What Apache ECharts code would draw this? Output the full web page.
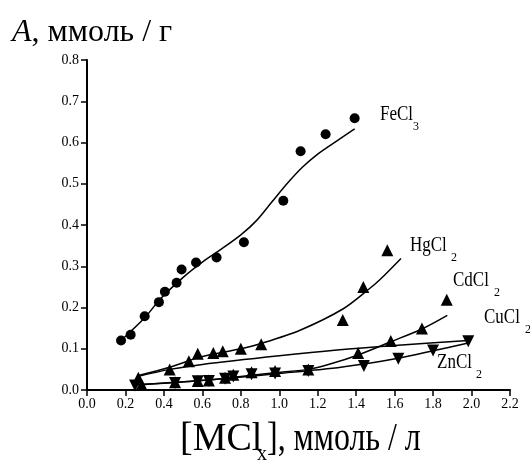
<!DOCTYPE html>
<html>
<head>
<meta charset="utf-8">
<script src="https://cdn.jsdelivr.net/npm/echarts@6/dist/echarts.min.js"></script>
<style>
html,body{margin:0;padding:0;background:#fff;}
#chart{width:530px;height:461px;}
</style>
</head>
<body>
<div id="chart"></div>
<script>
// ---- data ----
var xTicks = [0.0,0.2,0.4,0.6,0.8,1.0,1.2,1.4,1.6,1.8,2.0,2.2];
var yTicks = [0.0,0.1,0.2,0.3,0.4,0.5,0.6,0.7,0.8];

var feX = [0.177,0.227,0.300,0.374,0.405,0.466,0.492,0.567,0.674,0.816,1.021,1.111,1.241,1.392];
var feY = [0.120,0.134,0.179,0.213,0.238,0.260,0.292,0.309,0.321,0.358,0.459,0.579,0.620,0.659];
var feFitX = [0.177,0.300,0.380,0.500,0.600,0.700,0.800,0.880,0.960,1.040,1.120,1.200,1.300,1.392];
var feFitY = [0.120,0.175,0.220,0.273,0.310,0.342,0.376,0.410,0.455,0.500,0.540,0.572,0.604,0.633];

var hgX = [0.267,0.430,0.530,0.576,0.657,0.706,0.800,0.906,1.330,1.437,1.562];
var hgY = [0.030,0.050,0.070,0.088,0.090,0.094,0.100,0.111,0.170,0.250,0.339];
var hgFitX = [0.267,0.430,0.590,0.800,0.900,1.108,1.333,1.470,1.520,1.633];
var hgFitY = [0.035,0.055,0.080,0.100,0.112,0.145,0.197,0.246,0.266,0.319];

var cuFitX = [0.267,0.430,0.600,1.000,1.300,1.600,1.983];
var cuFitY = [0.033,0.050,0.062,0.083,0.097,0.108,0.120];

var cdX = [0.284,0.458,0.576,0.634,0.718,0.761,0.856,0.978,1.151,1.410,1.580,1.742,1.871];
var cdY = [0.013,0.019,0.022,0.023,0.030,0.037,0.043,0.046,0.050,0.090,0.119,0.149,0.219];
var cdFitX = [0.284,0.458,0.634,0.856,1.000,1.151,1.264,1.410,1.580,1.742,1.874];
var cdFitY = [0.013,0.019,0.024,0.036,0.043,0.050,0.063,0.085,0.117,0.148,0.181];

var znX = [0.250,0.458,0.576,0.634,0.718,0.761,0.856,0.978,1.151,1.440,1.619,1.800,1.983];
var znY = [0.011,0.017,0.021,0.022,0.027,0.033,0.038,0.040,0.046,0.058,0.076,0.096,0.118];
var znFitX = [0.250,0.460,0.700,1.000,1.264,1.440,1.620,1.800,1.983];
var znFitY = [0.013,0.018,0.027,0.040,0.052,0.063,0.077,0.095,0.114];

function zip(xs, ys){ return xs.map(function(x,i){ return [x, ys[i]]; }); }

var chart = echarts.init(document.getElementById('chart'), null, {renderer:'canvas'});
var FONT = '"Liberation Serif","Times New Roman",serif';
var lineStyle = {color:'#000', width:1.5};

function fitSeries(xs, ys){
  return {type:'line', data:zip(xs,ys), smooth:0.3, showSymbol:false, symbol:'none',
          lineStyle:lineStyle, itemStyle:{color:'#000'}, silent:true, z:2};
}
function markSeries(xs, ys, symbol, size, rotate){
  return {type:'scatter', data:zip(xs,ys), symbol:symbol, symbolSize:size, symbolRotate:rotate||0,
          itemStyle:{color:'#000', opacity:1}, silent:true, z:3};
}

function txt(t, x, y, size, sx, sy){
  return {type:'text', x:x, y:y, scaleX:sx||1, scaleY:sy||1, z:10,
    style:{text:t, x:0, y:0, font: size + 'px ' + FONT, fill:'#000',
           textAlign:'left', textVerticalAlign:'middle'}};
}

var option = {
  animation:false,
  backgroundColor:'#fff',
  grid:{left:87, right:20, top:60, bottom:71},
  xAxis:{type:'value', min:0, max:2.2, interval:0.2,
    axisLine:{show:true, onZero:false, lineStyle:{color:'#000', width:2}},
    axisTick:{show:true, inside:false, length:6, lineStyle:{color:'#000', width:1.5}},
    axisLabel:{color:'#000', fontFamily:FONT, fontSize:14, margin:7,
      formatter:function(v){ return v.toFixed(1); }},
    splitLine:{show:false}},
  yAxis:{type:'value', min:0, max:0.8, interval:0.1,
    axisLine:{show:true, onZero:false, lineStyle:{color:'#000', width:2}},
    axisTick:{show:true, inside:false, length:6, lineStyle:{color:'#000', width:1.5}},
    axisLabel:{color:'#000', fontFamily:FONT, fontSize:14, margin:8,
      formatter:function(v){ return v.toFixed(1); }},
    splitLine:{show:false}},
  series:[
    fitSeries(feFitX, feFitY),
    markSeries(feX, feY, 'circle', 10),
    fitSeries(hgFitX, hgFitY),
    markSeries(hgX, hgY, 'triangle', 12),
    fitSeries(cuFitX, cuFitY),
    fitSeries(cdFitX, cdFitY),
    markSeries(cdX, cdY, 'triangle', 12),
    fitSeries(znFitX, znFitY),
    markSeries(znX, znY, 'triangle', 12, 180)
  ],
  graphic:[
    // y axis title
    {type:'text', x:12, y:33, z:10, style:{
      text:'{a|A}{b|, ммоль / г}', x:0, y:0, textVerticalAlign:'middle',
      rich:{a:{font:'italic 32px '+FONT, fill:'#000'}, b:{font:'32px '+FONT, fill:'#000'}}}},
    // x axis title
    txt('[MCl', 180, 440, 38, 1, 1.05),
    txt('x', 257, 455, 20),
    txt('], ммоль / л', 267, 440, 38, 0.84, 1.05),
    // series labels
    txt('FeCl', 380, 115, 17, 1, 1.2), txt('3', 413, 127, 12),
    txt('HgCl', 410, 246, 17, 1, 1.2), txt('2', 451, 258, 12),
    txt('CdCl', 453, 281, 17, 1, 1.2), txt('2', 494, 293, 12),
    txt('CuCl', 484, 318, 17, 1, 1.2), txt('2', 525, 330, 12),
    txt('ZnCl', 437, 363, 17, 1, 1.2), txt('2', 476, 375, 12)
  ]
};
chart.setOption(option);
</script>
</body>
</html>
